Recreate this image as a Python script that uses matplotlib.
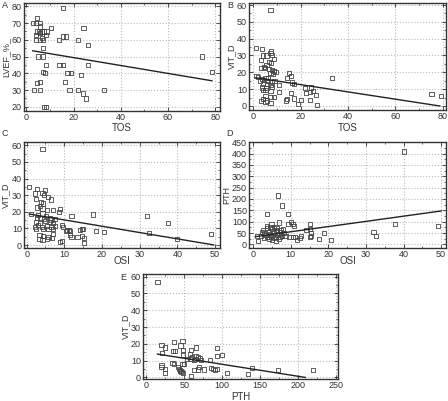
import matplotlib
matplotlib.use("Agg")
import numpy as np
import matplotlib.pyplot as plt
from matplotlib.ticker import AutoMinorLocator

plt.rcParams['font.family'] = ['Liberation Sans', 'DejaVu Sans']

# Panel A: TOS vs LVEF_%_
a_x = [15.5, 4.5, 2.7, 4.2, 5.6, 5.6, 4.2, 5.6, 4.5, 5.5, 6.5, 7.5, 8.5, 8.3,
       4.2, 5.6, 6.5, 7.0, 10.5, 13.8, 15.5, 16.9, 21.8, 24.2, 26.2, 7.0, 4.8,
       7.0, 8.4, 14.0, 15.5, 26.2, 7.0, 8.0, 17.4, 19.0, 23.0, 4.5, 5.9, 16.3,
       3.1, 5.9, 18.3, 21.7, 23.9, 25.3, 33.0, 7.3, 8.4, 74.5, 78.6]
a_y = [79, 73, 70, 70, 70, 68, 63, 64, 65, 65, 65, 65, 65, 63,
       60, 60, 61, 60, 67, 60, 62, 62, 60, 67, 57, 55, 50,
       50, 45, 45, 45, 45, 41, 40, 40, 40, 39, 34, 35, 35,
       30, 30, 30, 30, 28, 25, 30, 20, 20, 50, 41]
a_fit = (54.1, -0.236)

# Panel B: TOS vs VIT_D
b_x = [7.3, 1.3, 3.8, 7.6, 7.3, 8.0, 4.2, 5.6, 8.7, 3.4, 6.6, 7.6, 5.6, 4.5,
       3.1, 4.9, 6.6, 8.0, 8.7, 9.4, 7.3, 8.5, 1.4, 2.0, 3.8, 5.2, 6.3, 2.8,
       4.5, 5.9, 8.0, 9.0, 4.2, 5.9, 7.3, 10.9, 3.8, 5.6, 8.0, 4.2, 5.2, 7.3,
       10.9, 15.1, 14.1, 16.1, 16.5, 17.2, 21.7, 24.5, 25.4, 23.8, 26.4, 22.1,
       5.2, 7.3, 8.7, 4.2, 5.9, 3.4, 5.2, 7.3, 14.4, 13.8, 17.2, 20.3, 18.9,
       24.0, 26.8, 15.8, 33.4, 75.3, 79.4]
b_y = [57, 34.7, 33.7, 32.9, 31.3, 30.4, 30, 30, 27.7, 27.3, 26, 25.3, 24.4,
       23.4, 22.4, 22.4, 22, 21.4, 21, 20.4, 19.4, 19, 18, 17.4, 16.2, 16.6,
       16.8, 14.8, 15.2, 14.8, 14.2, 14.6, 13.3, 12.9, 12.3, 12.3, 11, 10.5,
       11.5, 9.5, 9.5, 9.1, 8.1, 19.4, 16.8, 17.6, 13.9, 13, 10.5, 11, 9.1,
       8.1, 6.7, 7.5, 6.1, 5.5, 5.1, 4.2, 3.2, 2.8, 2.4, 1.8, 4.2, 3.2, 4.4,
       3.6, 1.2, 3.6, 0.4, 7.5, 16.8, 7, 6.1]
b_fit = (17.0, -0.216)

# Panel C: OSI vs VIT_D
c_x = [4.2, 0.6, 2.7, 4.9, 2.2, 4.2, 4.7, 5.6, 2.4, 6.4, 3.8, 4.4, 3.6, 2.7,
       4.2, 5.3, 7.1, 8.8, 8.5, 1.1, 11.9, 17.5, 32.0, 3.1, 4.2, 5.1, 2.8, 3.5,
       4.6, 6.2, 6.6, 7.5, 2.5, 3.5, 4.9, 6.2, 7.1, 3.1, 4.0, 5.3, 6.6, 7.5,
       2.2, 2.5, 4.4, 5.8, 7.1, 9.3, 9.6, 10.4, 10.8, 11.2, 11.5, 14.2, 14.6,
       15.0, 18.4, 20.5, 32.5, 37.4, 3.4, 4.4, 5.8, 7.1, 11.5, 11.9, 13.5,
       14.6, 15.2, 3.4, 4.2, 5.3, 6.8, 8.8, 9.4, 15.2, 40.0, 49.0]
c_y = [57.6, 34.8, 33.6, 33, 31, 31.4, 30, 29, 27.6, 27.4, 26, 25, 23.4,
       22.6, 22, 21, 21, 21.8, 20, 18.6, 17.4, 18.4, 17.4, 18, 19, 17.4, 16.4,
       16.4, 15.8, 16.4, 15.4, 15.8, 14, 13.4, 14.6, 14, 13, 12, 11, 11.4, 11,
       11.4, 11, 9.8, 9.8, 9.4, 9.4, 12.2, 11, 8.4, 9, 9, 8.4, 9, 9.4, 9.6,
       8.4, 7.6, 7.4, 13.4, 6, 5.4, 5, 6.6, 6, 5, 4.6, 5.4, 4.4, 3.4, 3, 3.4,
       4.4, 2, 2.6, 1, 3.4, 6.4]
c_fit = (18.9, -0.38)

# Panel D: OSI vs PTH
d_x = [40.2, 6.6, 7.6, 3.7, 9.3, 6.8, 10.0, 10.5, 9.3, 10.9, 3.7, 4.9, 15.1,
       14.2, 15.5, 15.1, 18.9, 15.5, 15.1, 12.8, 12.5, 10.5, 11.2, 11.6, 17.5,
       20.8, 32.0, 32.7, 37.8, 49.1, 9.5, 1.1, 1.4,
       2.7, 3.0, 3.6, 4.2, 4.6, 5.1, 5.5, 6.0, 6.4, 6.8, 7.3, 7.7, 3.7, 2.8,
       4.2, 5.1, 6.0, 6.8, 4.6, 5.5, 6.2, 3.3, 6.4, 7.5, 8.2, 2.4, 2.1, 4.8,
       5.5, 7.1, 6.0, 4.2, 8.0, 8.6]
d_y = [409, 215, 171, 134, 134, 96, 100, 90, 88, 82, 82, 88, 66,
       63, 51, 88, 49, 37, 31, 37, 27, 34, 31, 19, 22,
       19, 56, 38, 88, 82, 34, 37, 16,
       63, 49, 71, 56, 41, 66, 52, 34, 63, 46, 63, 37, 34, 27,
       22, 19, 16, 25, 75, 78, 71, 41, 41, 52, 49, 56, 37, 31,
       27, 31, 60, 44, 66, 37]
d_fit = (32.6, 2.29)

# Panel E: PTH vs VIT_D
e_x = [14.6, 19.9, 24.3, 20.8, 35.3, 37.5, 36.2, 47.7, 45.0, 48.6, 58.7,
       57.4, 48.6, 53.9, 58.3, 60.0, 62.7, 64.9, 65.3, 64.9, 68.4, 70.6, 72.0,
       83.9, 93.6, 93.6, 99.3, 19.9, 19.9, 24.3, 24.3, 34.4, 36.6, 41.9, 43.3,
       44.2, 45.0, 46.4, 47.7, 49.9, 48.6, 58.7, 63.1, 69.3, 68.4, 75.9, 85.2,
       88.3, 90.5, 92.7, 106.0, 133.8, 139.0, 174.0, 220.0]
e_y = [57, 19.2, 17.8, 14.3, 15.7, 15.7, 21.3, 21.9, 19, 16.1, 16.5,
       13.9, 13.3, 11.1, 11.1, 11.9, 10.5, 11.1, 17.8, 12.7, 12.1, 11.3, 10.5,
       10.5, 17.4, 12.7, 13.1, 7.1, 6.3, 5.1, 2.6, 8.7, 7.9, 6.3, 5.1,
       4.3, 3.9, 3.3, 8.1, 7.7, 2.6, 0.6, 4.5, 6.3, 4.7, 4.7, 5.7,
       4.9, 4.3, 4.9, 2.4, 1.8, 5.8, 4.4, 4.4]
e_fit = (14.9, -0.0713)

W, H = 448, 401
fig = plt.figure(figsize=(W / 100, H / 100), dpi=100)


def add_panel(box, x, y, fit, fit_range, xlim, ylim, xticks, yticks,
              xlabel, ylabel, letter, letter_pos, xlab_top, ylab_right):
    # box and label positions are in pixels from the top-left corner
    l, t, r, b = box
    w, h = r - l, b - t
    ax = fig.add_axes([l / W, 1 - b / H, w / W, h / H])
    ax.scatter(x, y, marker='s', s=9, facecolors='none',
               edgecolors='#444444', linewidths=0.6, zorder=3)
    xx = np.array(fit_range)
    ax.plot(xx, fit[0] + fit[1] * xx, color='#222222', lw=1.0, zorder=4)
    ax.set_xlim(xlim)
    ax.set_ylim(ylim)
    ax.set_xticks(xticks)
    ax.set_yticks(yticks)
    ax.xaxis.set_minor_locator(AutoMinorLocator(2))
    ax.yaxis.set_minor_locator(AutoMinorLocator(2))
    ax.grid(True, which='major', color='#bbbbbb', linestyle=':', lw=0.8)
    ax.tick_params(which='both', direction='in', top=True, right=True,
                   labelsize=6.5, pad=1.5, colors='#333333')
    ax.tick_params(which='major', length=3, width=0.6)
    ax.tick_params(which='minor', length=1.5, width=0.5)
    for s in ax.spines.values():
        s.set_color('#333333')
        s.set_linewidth(1.0)
    ax.set_xlabel(xlabel, fontsize=7, color='#333333')
    ax.set_ylabel(ylabel, fontsize=6.5, color='#333333')
    ax.xaxis.set_label_coords(0.5, -(xlab_top - b) / h)
    ax.yaxis.set_label_coords(-(l - ylab_right) / w, 0.5)
    fig.text(letter_pos[0] / W, 1 - letter_pos[1] / H, letter, fontsize=6.5,
             ha='left', va='center', color='#333333')
    return ax


add_panel((24, 3, 220, 111), a_x, a_y, a_fit, (2.7, 78.6), (-1, 82),
          (17.5, 82), range(0, 81, 20), range(20, 81, 10),
          'TOS', 'LVEF_%_', 'A', (2, 5), 123, 10)
add_panel((249, 3, 446, 110), b_x, b_y, b_fit, (1.1, 78.8), (-1.8, 81.4),
          (-2.4, 61.2), range(0, 81, 20), range(0, 61, 10),
          'TOS', 'VIT_D', 'B', (227, 5), 123, 236)
add_panel((24, 142, 220, 248), c_x, c_y, c_fit, (0.7, 49.6), (-0.7, 51.3),
          (-1.8, 62), range(0, 51, 10), range(0, 61, 10),
          'OSI', 'VIT_D', 'C', (2, 134), 256, 10)
add_panel((249, 142, 446, 248), d_x, d_y, d_fit, (0.6, 50), (-1.1, 51.3),
          (-16, 451), range(0, 51, 10), range(0, 451, 50),
          'OSI', 'PTH', 'D', (226, 134), 256, 231)
add_panel((143, 274, 338, 379), e_x, e_y, e_fit, (14.6, 209.7), (-4.5, 253),
          (-1, 61.6), range(0, 251, 50), range(0, 61, 10),
          'PTH', 'VIT_D', 'E', (120, 277), 392, 130)

fig.savefig('out.png', dpi=100)
